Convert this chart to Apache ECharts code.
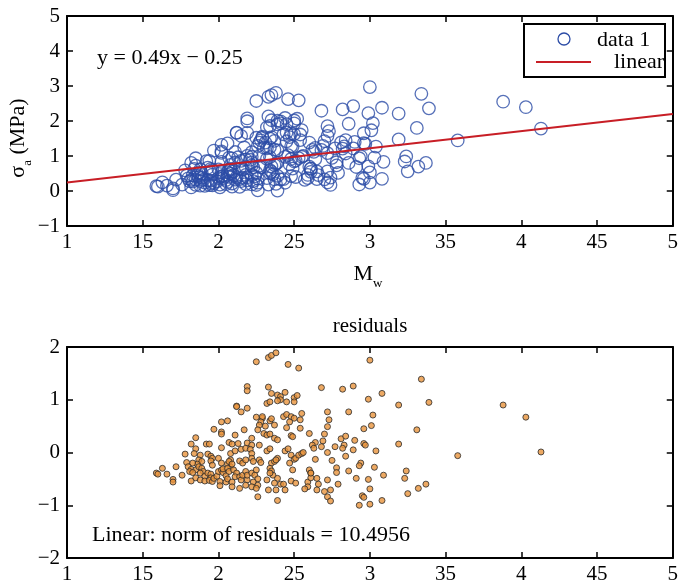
<!DOCTYPE html>
<html>
<head>
<meta charset="utf-8">
<script src="https://cdn.jsdelivr.net/npm/echarts@6/dist/echarts.min.js"></script>
<style>
  html, body { margin: 0; padding: 0; background: #fff; }
  #chart { width: 681px; height: 587px; }
</style>
</head>
<body>
<div id="chart"></div>
<script>
// Moment magnitude of each event
const mw = [
  2.19,2.19,2.12,2.12,2.15,2.19,2.02,2.06,1.97,2.02,
  2.02,2.17,2.11,1.85,1.82,1.92,1.94,2.07,2.09,2.13,
  2.19,2.02,1.85,1.78,1.84,1.88,1.93,1.95,1.96,2.00,
  1.95,1.96,2.08,2.11,2.15,2.18,1.87,1.89,1.86,1.83,
  1.79,2.02,2.06,2.08,2.08,1.72,1.63,1.59,1.60,1.66,
  1.70,1.70,1.76,1.80,1.82,1.85,1.87,1.89,1.90,1.81,
  1.83,1.88,1.91,1.93,1.95,1.95,1.82,1.85,1.88,1.91,
  1.94,1.96,1.97,1.99,2.00,2.02,2.03,2.05,2.03,2.06,
  2.07,2.01,2.01,2.05,2.06,2.09,2.09,2.14,2.10,2.12,
  2.11,2.14,2.15,2.16,2.18,2.19,2.18,2.07,2.09,2.14,
  2.16,2.18,2.25,2.33,2.35,2.38,2.46,2.53,2.33,2.35,
  2.39,2.41,2.44,2.41,2.39,2.45,2.50,2.52,2.50,2.32,
  2.34,2.68,2.82,2.89,2.86,2.25,2.29,2.29,2.28,2.27,
  2.31,2.34,2.35,2.37,2.43,2.45,2.48,2.50,2.55,2.54,
  2.47,2.72,2.73,2.72,2.26,2.30,2.32,2.34,2.45,2.54,
  2.22,2.37,2.39,2.48,2.49,2.60,2.70,2.69,2.68,2.64,
  2.62,2.63,2.81,2.84,2.83,2.82,2.84,2.77,2.72,2.75,
  2.78,2.78,2.86,2.22,2.21,2.22,2.22,2.23,2.27,2.32,
  2.34,2.39,2.27,2.28,2.35,2.37,2.38,2.34,2.35,2.36,
  2.34,2.44,2.46,2.48,2.50,2.51,2.53,2.55,2.56,2.47,
  2.49,2.60,2.61,2.64,2.65,2.66,2.65,2.72,2.70,2.72,
  2.74,2.74,2.79,2.19,2.22,2.25,2.24,2.26,2.23,2.26,
  2.22,2.25,2.32,2.33,2.38,2.39,2.37,2.41,2.43,2.44,
  2.39,2.26,2.48,2.51,2.59,2.59,2.57,2.61,2.61,3.00,
  3.34,3.08,2.99,3.19,3.39,3.02,3.01,2.96,3.31,2.90,
  2.96,2.97,3.19,2.89,3.04,2.94,2.93,3.03,3.24,2.91,
  2.99,3.09,3.23,3.00,3.37,3.32,2.95,2.96,3.25,2.93,
  3.00,3.08,3.88,4.03,3.58,4.13
];

// Residual of each event about the linear fit (MPa)
const residual = [
  1.25,1.17,0.88,0.87,0.77,0.84,0.58,0.60,0.44,0.39,
  0.35,0.43,0.33,0.28,0.16,0.16,0.16,0.19,0.16,0.17,
  0.18,0.09,0.07,-0.03,-0.02,-0.05,-0.03,-0.07,-0.11,-0.11,
  -0.16,-0.24,-0.02,0.03,0.06,0.08,-0.14,-0.17,-0.22,-0.20,
  -0.19,-0.20,-0.22,-0.14,-0.27,-0.27,-0.30,-0.39,-0.41,-0.41,
  -0.51,-0.56,-0.43,-0.27,-0.32,-0.33,-0.27,-0.30,-0.36,-0.36,
  -0.38,-0.39,-0.45,-0.39,-0.41,-0.48,-0.54,-0.48,-0.52,-0.54,
  -0.53,-0.55,-0.49,-0.45,-0.36,-0.33,-0.38,-0.44,-0.31,-0.30,
  -0.36,-0.55,-0.63,-0.56,-0.50,-0.56,-0.65,-0.68,-0.33,-0.39,
  -0.46,-0.46,-0.52,-0.43,-0.36,-0.52,-0.62,-0.17,-0.22,-0.16,
  -0.20,-0.14,1.72,1.80,1.84,1.89,1.67,1.60,1.24,1.12,
  1.09,1.06,1.14,1.00,0.98,0.96,1.04,1.08,0.96,0.93,
  0.96,1.23,1.20,1.26,0.77,0.67,0.65,0.68,0.58,0.52,
  0.50,0.60,0.64,0.52,0.68,0.72,0.68,0.65,0.74,0.62,
  0.58,0.77,0.62,0.49,0.43,0.36,0.33,0.35,0.47,0.46,
  0.27,0.27,0.24,0.32,0.30,0.36,0.35,0.22,0.11,0.19,
  0.14,0.08,0.26,0.31,0.14,0.08,-0.07,0.11,0.00,-0.15,
  -0.29,-0.38,-0.35,0.14,0.06,-0.02,-0.11,-0.17,0.14,0.03,
  0.07,-0.11,-0.14,-0.19,-0.20,-0.17,-0.14,-0.30,-0.35,-0.43,
  -0.39,0.03,0.07,-0.05,-0.13,-0.11,-0.05,-0.02,0.00,-0.20,
  -0.33,-0.33,-0.39,-0.13,-0.49,-0.60,-0.71,-0.52,-0.74,-0.84,
  -0.71,-0.92,-0.60,-0.43,-0.39,-0.33,-0.43,-0.50,-0.56,-0.62,
  -0.65,-0.68,-0.52,-0.71,-0.71,-0.49,-0.58,-0.60,-0.60,-0.71,
  -0.91,-0.84,-0.54,-0.58,-0.56,-0.65,-0.69,-0.48,-0.39,1.75,
  1.39,1.12,1.01,0.90,0.95,0.71,0.51,0.45,0.43,0.23,
  0.17,0.14,0.16,0.05,0.03,-0.20,-0.25,-0.28,-0.35,-0.49,
  -0.51,-0.43,-0.49,-0.69,-0.60,-0.68,-0.82,-0.85,-0.78,-1.00,
  -0.98,-0.91,0.90,0.67,-0.06,0.01
];

// Linear fit  sigma_a = slope * Mw + intercept
const slope = 0.49;
const intercept = -0.25;
const fitRange = [1, 5];
const residualNorm = '10.4956';

// Axis tick labels
const xTickLabels = ['1', '15', '2', '25', '3', '35', '4', '45', '5'];
const topYTickLabels = ['\u22121', '0', '1', '2', '3', '4', '5'];
const bottomYTickLabels = ['\u22122', '\u22121', '0', '1', '2'];

const FONT = 'Liberation Serif';
const fit = m => slope * m + intercept;
const sigma = mw.map((m, i) => +(fit(m) + residual[i]).toFixed(3));

const chart = echarts.init(document.getElementById('chart'), null, { renderer: 'canvas' });

const frame = { color: '#000', width: 2 };
const tick = { inside: true, length: 6, lineStyle: { color: '#000', width: 1.5 } };
const label = { fontFamily: FONT, fontSize: 21, color: '#000' };

function xAxes(grid) {
  const base = {
    gridIndex: grid, type: 'value', min: 1, max: 5, interval: 0.5,
    axisLine: { show: true, onZero: false, lineStyle: frame },
    axisTick: tick, splitLine: { show: false }
  };
  return [
    Object.assign({}, base, {
      position: 'bottom',
      axisLabel: Object.assign({}, label, {
        margin: 6, showMinLabel: true, showMaxLabel: true,
        formatter: v => xTickLabels[Math.round((v - 1) / 0.5)]
      })
    }),
    Object.assign({}, base, { position: 'top', axisLabel: { show: false } })
  ];
}

function yAxes(grid, min, max, labels) {
  const base = {
    gridIndex: grid, type: 'value', min: min, max: max, interval: 1,
    axisLine: { show: true, onZero: false, lineStyle: frame },
    axisTick: tick, splitLine: { show: false }
  };
  return [
    Object.assign({}, base, {
      position: 'left',
      axisLabel: Object.assign({}, label, {
        margin: 7, showMinLabel: true, showMaxLabel: true,
        formatter: v => labels[Math.round(v - min)]
      })
    }),
    Object.assign({}, base, { position: 'right', axisLabel: { show: false } })
  ];
}

const dataBlue = '#2c4ca6';
const fitRed = '#c81e26';

const subText = size => ({
  m: { fontFamily: FONT, fontSize: size, lineHeight: 32, verticalAlign: 'middle', fill: '#000' },
  s: { fontFamily: FONT, fontSize: 13, lineHeight: 13, verticalAlign: 'bottom', fill: '#000' }
});

const option = {
  animation: false,
  backgroundColor: '#fff',
  grid: [
    { left: 67, top: 16, width: 607, height: 210 },
    { left: 67, top: 347, width: 607, height: 211 }
  ],
  xAxis: [].concat(xAxes(0), xAxes(1)),
  yAxis: [].concat(
    yAxes(0, -1, 5, topYTickLabels),
    yAxes(1, -2, 2, bottomYTickLabels)
  ),
  series: [
    {
      name: 'data 1', type: 'scatter', xAxisIndex: 0, yAxisIndex: 0,
      data: mw.map((m, i) => [m, sigma[i]]),
      symbol: 'circle', symbolSize: 12.5,
      itemStyle: { color: 'rgba(0,0,0,0)', borderColor: dataBlue, borderWidth: 1.3 },
      z: 2, silent: true
    },
    {
      name: 'linear', type: 'line', xAxisIndex: 0, yAxisIndex: 0,
      data: fitRange.map(m => [m, fit(m)]),
      showSymbol: false, lineStyle: { color: fitRed, width: 2 },
      z: 3, silent: true
    },
    {
      name: 'residuals', type: 'scatter', xAxisIndex: 2, yAxisIndex: 2,
      data: mw.map((m, i) => [m, residual[i]]),
      symbol: 'circle', symbolSize: 6,
      itemStyle: { color: '#e9943c', borderColor: '#2b2b2b', borderWidth: 1 },
      silent: true
    }
  ],
  graphic: [
    // fit equation
    {
      type: 'text', x: 97, y: 58, z: 10,
      style: {
        text: 'y = ' + slope + 'x \u2212 ' + Math.abs(intercept),
        verticalAlign: 'middle',
        font: '22px "' + FONT + '"', fill: '#000'
      }
    },
    // y-axis title of the upper panel
    {
      type: 'text', x: 18, y: 138, rotation: Math.PI / 2, z: 10,
      style: {
        text: '{m|\u03c3}{s|a}{m| (MPa)}',
        align: 'center', verticalAlign: 'middle',
        rich: subText(22)
      }
    },
    // x-axis title of the upper panel
    {
      type: 'text', x: 368, y: 274, z: 10,
      style: {
        text: '{m|M}{s|w}',
        align: 'center', verticalAlign: 'middle',
        rich: subText(22)
      }
    },
    // lower panel title
    {
      type: 'text', x: 370, y: 326, z: 10,
      style: {
        text: 'residuals', align: 'center', verticalAlign: 'middle',
        font: '21px "' + FONT + '"', fill: '#000'
      }
    },
    // residual norm
    {
      type: 'text', x: 92, y: 535, z: 10,
      style: {
        text: 'Linear: norm of residuals = ' + residualNorm,
        verticalAlign: 'middle',
        font: '22px "' + FONT + '"', fill: '#000'
      }
    },
    // legend box
    {
      type: 'group', z: 20,
      children: [
        {
          type: 'rect', shape: { x: 524, y: 24, width: 141, height: 53 },
          style: { fill: '#fff', stroke: '#000', lineWidth: 2 }
        },
        {
          type: 'circle', shape: { cx: 564, cy: 39, r: 6 },
          style: { fill: 'none', stroke: dataBlue, lineWidth: 1.3 }
        },
        {
          type: 'text', x: 597, y: 40,
          style: { text: 'data 1', verticalAlign: 'middle', font: '22px "' + FONT + '"', fill: '#000' }
        },
        {
          type: 'line', shape: { x1: 536, y1: 62, x2: 591, y2: 62 },
          style: { stroke: fitRed, lineWidth: 2 }
        },
        {
          type: 'text', x: 614, y: 62,
          style: { text: 'linear', verticalAlign: 'middle', font: '22px "' + FONT + '"', fill: '#000' }
        }
      ]
    }
  ]
};

chart.setOption(option);
</script>
</body>
</html>
